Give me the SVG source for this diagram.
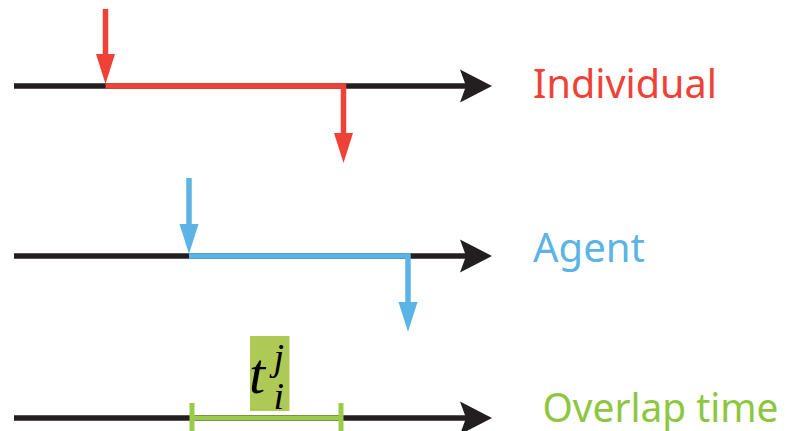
<svg xmlns="http://www.w3.org/2000/svg" width="786" height="431" viewBox="0 0 786 431">
  <defs>
    <style>
      .axis { stroke: #231f20; stroke-width: 5.5; fill: none; }
      .head { fill: #231f20; }
      .red { stroke: #ef4136; fill: none; stroke-width: 5.5; }
      .redf { fill: #ef4136; }
      .blue { stroke: #5bb4e5; fill: none; stroke-width: 5.5; }
      .bluef { fill: #5bb4e5; }
      .green { stroke: #9bcb4b; fill: none; stroke-width: 5; }
      .label { font-family: "Noto Sans", "Open Sans", sans-serif; font-size: 40px; }
      .math { font-family: "Liberation Serif", "DejaVu Serif", serif; font-style: italic; fill: #000; }
    </style>
    <!-- notched arrowhead for the time axes, tip at (0,0) -->
    <path id="axisHead" d="M0,0 L-32,-16.5 L-26,0 L-32,16.5 Z"/>
    <!-- event marker arrowhead, tip at (0,0) -->
    <path id="evtHead" d="M0,0 L-9.5,-30 L9.5,-30 Z"/>
  </defs>

  <!-- Individual timeline -->
  <g id="individual">
    <line class="axis" x1="14" y1="86" x2="468" y2="86"/>
    <use href="#axisHead" class="head" x="492" y="86"/>
    <line class="red" x1="105.5" y1="86" x2="345" y2="86"/>
    <line class="red" x1="105.5" y1="9" x2="105.5" y2="56"/>
    <use href="#evtHead" class="redf" x="105.5" y="84"/>
    <line class="red" x1="343.5" y1="83.5" x2="343.5" y2="135"/>
    <use href="#evtHead" class="redf" x="343.5" y="163"/>
    <text class="label" x="533" y="97.5" fill="#ef4136" textLength="184" lengthAdjust="spacingAndGlyphs">Individual</text>
  </g>

  <!-- Agent timeline -->
  <g id="agent">
    <line class="axis" x1="14" y1="256" x2="468" y2="256"/>
    <use href="#axisHead" class="head" x="492" y="256"/>
    <line class="blue" x1="189" y1="256" x2="410" y2="256"/>
    <line class="blue" x1="189" y1="178" x2="189" y2="226"/>
    <use href="#evtHead" class="bluef" x="189" y="254"/>
    <line class="blue" x1="408" y1="253.5" x2="408" y2="304"/>
    <use href="#evtHead" class="bluef" x="408" y="332"/>
    <text class="label" x="533" y="262.3" fill="#5bb4e5" textLength="112" lengthAdjust="spacingAndGlyphs">Agent</text>
  </g>

  <!-- Overlap timeline -->
  <g id="overlap">
    <line class="axis" x1="14" y1="418" x2="468" y2="418"/>
    <use href="#axisHead" class="head" x="492" y="418"/>
    <line class="green" x1="192" y1="418" x2="341" y2="418"/>
    <line class="green" x1="192" y1="403" x2="192" y2="431"/>
    <line class="green" x1="341" y1="403" x2="341" y2="431"/>
    <rect x="250" y="336" width="39.5" height="75" fill="#afc957"/>
    <text class="math" x="249" y="393" font-size="58">t</text>
    <text class="math" x="273.5" y="370" font-size="38">j</text>
    <text class="math" x="273.5" y="409" font-size="38">i</text>
    <text class="label" x="542.5" y="421.5" fill="#8dc63f" textLength="236" lengthAdjust="spacingAndGlyphs">Overlap time</text>
  </g>
</svg>
